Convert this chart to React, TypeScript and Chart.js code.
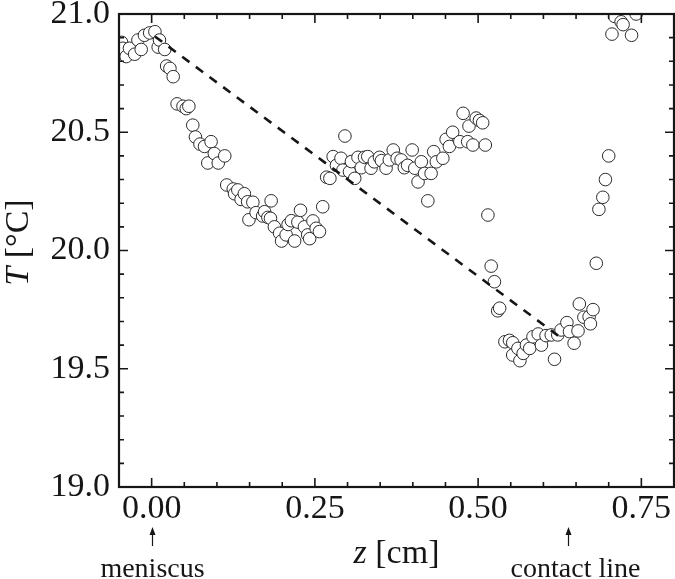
import React, { useEffect, useRef } from "react";
import { Chart, registerables } from "chart.js";

Chart.register(...registerables);

// Measured positions z [cm]
const zValues: number[] = [
  -0.046, -0.044, -0.039, -0.034, -0.026, -0.021, -0.016, -0.011, -0.003, 0.005,
  0.010, 0.012, 0.020, 0.023, 0.028, 0.033, 0.039, 0.048, 0.053, 0.057,
  0.063, 0.067, 0.074, 0.081, 0.086, 0.091, 0.096, 0.102, 0.112, 0.115,
  0.125, 0.127, 0.132, 0.137, 0.142, 0.147, 0.149, 0.155, 0.160, 0.170,
  0.173, 0.178, 0.182, 0.183, 0.188, 0.196, 0.199, 0.206, 0.209, 0.214,
  0.219, 0.224, 0.228, 0.234, 0.239, 0.242, 0.247, 0.252, 0.257, 0.262,
  0.268, 0.273, 0.278, 0.283, 0.290, 0.293, 0.296, 0.303, 0.306, 0.311,
  0.316, 0.321, 0.326, 0.331, 0.336, 0.341, 0.349, 0.352, 0.359, 0.364,
  0.370, 0.376, 0.382, 0.387, 0.392, 0.399, 0.403, 0.408, 0.413, 0.418,
  0.423, 0.428, 0.432, 0.436, 0.446, 0.451, 0.456, 0.461, 0.472, 0.477,
  0.484, 0.486, 0.492, 0.497, 0.502, 0.507, 0.511, 0.515, 0.520, 0.525,
  0.530, 0.533, 0.541, 0.548, 0.553, 0.553, 0.561, 0.564, 0.569, 0.574,
  0.579, 0.584, 0.592, 0.597, 0.604, 0.612, 0.617, 0.622, 0.627, 0.636,
  0.640, 0.647, 0.653, 0.655, 0.662, 0.670, 0.672, 0.676, 0.681, 0.685,
  0.691, 0.695, 0.700, 0.705, 0.709, 0.719, 0.722, 0.735, 0.742,
];

// Measured temperatures T [°C]
const tValues: number[] = [
  20.88, 20.855, 20.82, 20.855, 20.83, 20.89, 20.85, 20.91, 20.92, 20.925,
  20.86, 20.89, 20.85, 20.78, 20.77, 20.735, 20.62, 20.61, 20.60, 20.61,
  20.53, 20.48, 20.45, 20.44, 20.37, 20.46, 20.41, 20.37, 20.40, 20.277,
  20.26, 20.24, 20.256, 20.216, 20.24, 20.206, 20.13, 20.204, 20.16, 20.146,
  20.164, 20.14, 20.136, 20.21, 20.10, 20.073, 20.04, 20.066, 20.11, 20.126,
  20.04, 20.12, 20.17, 20.10, 20.066, 20.05, 20.125, 20.094, 20.08, 20.185,
  20.31, 20.305, 20.397, 20.36, 20.39, 20.34, 20.484, 20.333, 20.376, 20.305,
  20.394, 20.35, 20.394, 20.397, 20.348, 20.375, 20.394, 20.38, 20.348, 20.383,
  20.425, 20.39, 20.383, 20.35, 20.36, 20.425, 20.348, 20.29, 20.375, 20.326,
  20.21, 20.326, 20.418, 20.375, 20.39, 20.47, 20.44, 20.50, 20.46, 20.58,
  20.46, 20.526, 20.446, 20.56, 20.55, 20.54, 20.446, 20.15, 19.934, 19.868,
  19.745, 19.756, 19.614, 19.62, 19.61, 19.558, 19.586, 19.534, 19.565, 19.60,
  19.586, 19.635, 19.647, 19.60, 19.64, 19.643, 19.54, 19.643, 19.664, 19.695,
  19.657, 19.608, 19.66, 19.774, 19.718, 19.72, 19.69, 19.75, 19.946, 20.174,
  20.225, 20.30, 20.40, 20.915, 20.99, 20.967, 20.955, 20.91, 21.0,
];

// Dashed linear trend (endpoints)
const trendZ: number[] = [0.005, 0.625];
const trendT: number[] = [20.905, 19.635];

// Axes
const xTickValues: number[] = [0, 0.25, 0.5, 0.75];
const yTickValues: number[] = [19.0, 19.5, 20.0, 20.5, 21.0];
const xRange: number[] = [-0.05, 0.8];
const yRange: number[] = [19, 21];

// Annotations below the axis
const annotLabels: string[] = ["meniscus", "contact line"];
const annotZ: number[] = [0, 0.637];

const SERIF = '"Liberation Serif", "Times New Roman", serif';
const INK = "#161616";

const framePlugin = {
  id: "frameTicks",
  afterDatasetsDraw(chart: any) {
    const { ctx, chartArea, scales } = chart;
    const { left, right, top, bottom } = chartArea;
    const xs = scales.x;
    const ys = scales.y;
    ctx.save();
    ctx.strokeStyle = INK;
    ctx.lineWidth = 1.6;
    for (let i = -1; i <= 16; i++) {
      const v = i * 0.05;
      const px = xs.getPixelForValue(v);
      if (px < left - 0.5 || px > right + 0.5) continue;
      const len = i % 5 === 0 ? 9 : 5;
      ctx.beginPath();
      ctx.moveTo(px, bottom);
      ctx.lineTo(px, bottom - len);
      ctx.moveTo(px, top);
      ctx.lineTo(px, top + len);
      ctx.stroke();
    }
    for (let i = 0; i <= 20; i++) {
      const v = 19 + i * 0.1;
      const py = ys.getPixelForValue(v);
      const len = i % 5 === 0 ? 9 : 5;
      ctx.beginPath();
      ctx.moveTo(left, py);
      ctx.lineTo(left + len, py);
      ctx.moveTo(right, py);
      ctx.lineTo(right - len, py);
      ctx.stroke();
    }
    ctx.lineWidth = 2.2;
    ctx.strokeRect(left, top, right - left, bottom - top);
    ctx.restore();
  },
  afterDraw(chart: any) {
    const { ctx, chartArea, scales } = chart;
    const xs = scales.x;
    ctx.save();
    ctx.fillStyle = INK;
    ctx.strokeStyle = INK;

    // x-axis title: italic z + [cm]
    ctx.font = `italic 34px ${SERIF}`;
    const zW = ctx.measureText("z").width;
    ctx.font = `34px ${SERIF}`;
    const restW = ctx.measureText(" [cm]").width;
    const cx = (chartArea.left + chartArea.right) / 2;
    const sx = cx - (zW + restW) / 2;
    ctx.textBaseline = "alphabetic";
    ctx.textAlign = "left";
    ctx.font = `italic 34px ${SERIF}`;
    ctx.fillText("z", sx, 563);
    ctx.font = `34px ${SERIF}`;
    ctx.fillText(" [cm]", sx + zW, 563);

    // y-axis title: italic T + [°C], rotated
    ctx.save();
    const cy = (chartArea.top + chartArea.bottom) / 2 - 8;
    ctx.translate(28, cy);
    ctx.rotate(-Math.PI / 2);
    ctx.font = `italic 34px ${SERIF}`;
    const tW = ctx.measureText("T").width;
    ctx.font = `34px ${SERIF}`;
    const cW = ctx.measureText(" [°C]").width;
    const tx = -(tW + cW) / 2;
    ctx.font = `italic 34px ${SERIF}`;
    ctx.fillText("T", tx, 0);
    ctx.font = `34px ${SERIF}`;
    ctx.fillText(" [°C]", tx + tW, 0);
    ctx.restore();

    // annotations: arrows and labels
    annotLabels.forEach((label, i) => {
      const px = Math.round(xs.getPixelForValue(annotZ[i])) + 0.5;
      ctx.lineWidth = 1.2;
      ctx.beginPath();
      ctx.moveTo(px, 546);
      ctx.lineTo(px, 533);
      ctx.stroke();
      ctx.beginPath();
      ctx.moveTo(px, 527);
      ctx.lineTo(px - 3, 535);
      ctx.lineTo(px + 3, 535);
      ctx.closePath();
      ctx.fill();
      ctx.font = `28px ${SERIF}`;
      ctx.textAlign = "center";
      ctx.textBaseline = "alphabetic";
      ctx.fillText(label, px + (i === 0 ? 0 : 7), 577);
    });
    ctx.restore();
  },
};

export default function App() {
  const canvasRef = useRef<HTMLCanvasElement | null>(null);

  useEffect(() => {
    const canvas = canvasRef.current;
    if (!canvas) return;
    const points = zValues.map((z, i) => ({ x: z, y: tValues[i] }));
    const trend = trendZ.map((z, i) => ({ x: z, y: trendT[i] }));
    const chart = new Chart(canvas, {
      type: "scatter",
      data: {
        datasets: [
          {
            label: "trend",
            data: trend,
            showLine: true,
            pointRadius: 0,
            borderColor: INK,
            borderWidth: 2.6,
            borderDash: [9, 8],
            fill: false,
            order: 0,
            clip: 0,
          } as any,
          {
            label: "T",
            data: points,
            pointRadius: 6.3,
            pointBorderWidth: 1,
            borderColor: "#2a2a2a",
            backgroundColor: "#ffffff",
            showLine: false,
            order: 1,
            clip: 0,
          } as any,
        ],
      },
      options: {
        animation: false,
        responsive: false,
        devicePixelRatio: 1,
        layout: { autoPadding: false, padding: { left: 0, right: 1, top: 14, bottom: 0 } },
        plugins: {
          legend: { display: false },
          tooltip: { enabled: false },
        },
        scales: {
          x: {
            type: "linear",
            min: xRange[0],
            max: xRange[1],
            grid: { display: false, drawTicks: false },
            border: { display: false },
            afterBuildTicks: (scale: any) => {
              scale.ticks = xTickValues.map((v) => ({ value: v }));
            },
            afterFit: (scale: any) => {
              scale.height = 92;
              scale.paddingLeft = 0;
              scale.paddingRight = 0;
              scale.paddingTop = 0;
              scale.paddingBottom = 0;
            },
            ticks: {
              padding: 2,
              color: INK,
              font: { family: SERIF, size: 34 },
              maxRotation: 0,
              autoSkip: false,
              callback: (v: any) => Number(v).toFixed(2),
            },
          },
          y: {
            type: "linear",
            min: yRange[0],
            max: yRange[1],
            grid: { display: false, drawTicks: false },
            border: { display: false },
            afterBuildTicks: (scale: any) => {
              scale.ticks = yTickValues.map((v) => ({ value: v }));
            },
            afterFit: (scale: any) => {
              scale.width = 119;
              scale.paddingLeft = 0;
              scale.paddingRight = 0;
              scale.paddingTop = 0;
              scale.paddingBottom = 0;
            },
            ticks: {
              padding: 9,
              color: INK,
              font: { family: SERIF, size: 34 },
              autoSkip: false,
              callback: (v: any) => Number(v).toFixed(1),
            },
          },
        },
      },
      plugins: [framePlugin],
    } as any);
    return () => chart.destroy();
  }, []);

  return (
    <div style={{ position: "absolute", left: 0, top: 0, width: 675, height: 579, background: "#fff" }}>
      <canvas ref={canvasRef} width={675} height={579} style={{ display: "block" }} />
    </div>
  );
}
